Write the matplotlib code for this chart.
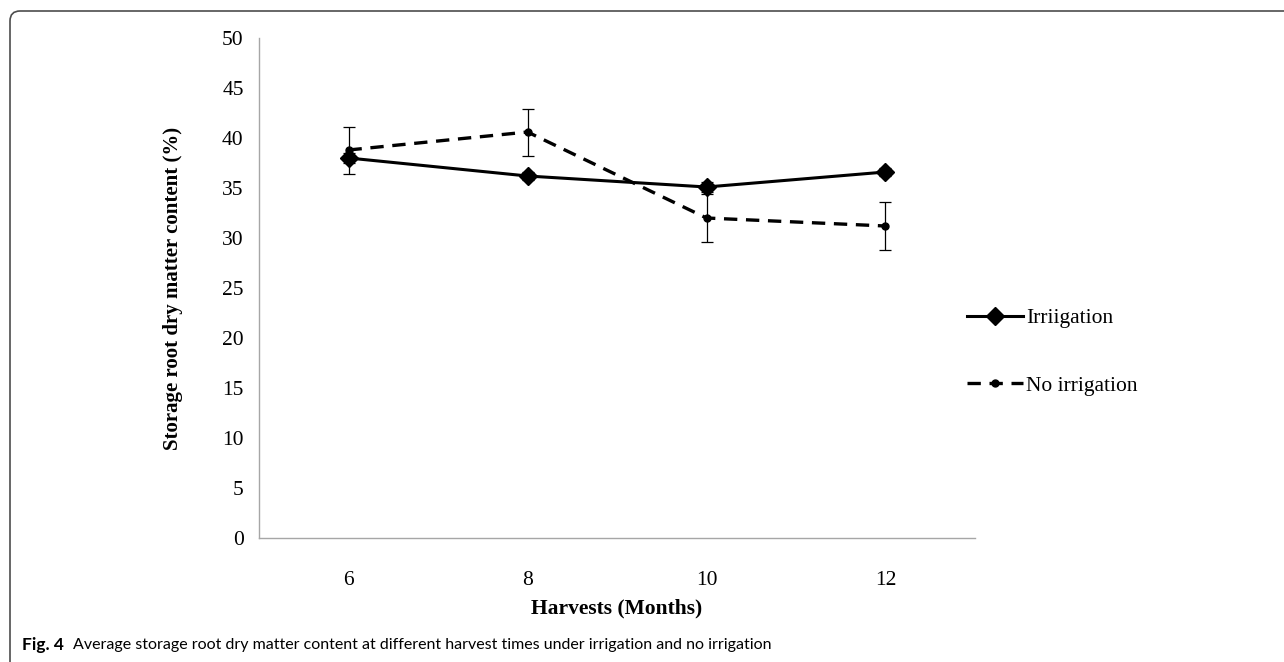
import matplotlib
matplotlib.use("Agg")
import matplotlib.pyplot as plt
from matplotlib.patches import FancyBboxPatch
from matplotlib.transforms import IdentityTransform

# Data
months = ["6", "8", "10", "12"]
irrigation = [38.0, 36.2, 35.1, 36.6]
irrigation_err = [0.5, 0.4, 0.5, 0.4]
no_irrigation = [38.8, 40.6, 32.0, 31.2]
no_irrigation_err = [2.35, 2.35, 2.4, 2.4]

serif = ["Liberation Serif", "DejaVu Serif"]
W, H = 1284, 662

fig = plt.figure(figsize=(W / 100, H / 100), dpi=100)
ax = fig.add_axes([259 / W, 1 - 538 / H, (975 - 259) / W, 500 / H])

x = list(range(len(months)))

# error bars first, without legend entries
ax.errorbar(x, irrigation, yerr=irrigation_err, fmt="none", ecolor="black",
            elinewidth=0.9, capsize=4, capthick=0.9, zorder=2)
ax.errorbar(x, no_irrigation, yerr=no_irrigation_err, fmt="none", ecolor="black",
            elinewidth=0.9, capsize=4, capthick=0.9, zorder=2)

ax.plot(x, irrigation, color="black", lw=2.2, marker="D", markersize=9,
        label="Irriigation", zorder=3)
ax.plot(x, no_irrigation, color="black", lw=2.4, dashes=(4, 2.6), marker="o",
        markersize=5, label="No irrigation", zorder=3)

ax.set_xlim(-0.5, len(months) - 0.5)
ax.set_ylim(0, 50)
ax.set_yticks(range(0, 51, 5))
ax.set_xticks(x)
ax.set_xticklabels(months)

for side in ["top", "right"]:
    ax.spines[side].set_visible(False)
for side in ["left", "bottom"]:
    ax.spines[side].set_color("#a6a6a6")
    ax.spines[side].set_linewidth(1.0)

ax.tick_params(axis="both", length=0, labelsize=15.5)
ax.tick_params(axis="x", pad=24)
ax.tick_params(axis="y", pad=11)
for lab in ax.get_xticklabels() + ax.get_yticklabels():
    lab.set_fontfamily(serif)

ax.set_ylabel("Storage root dry matter content (%)", fontsize=15,
              fontweight="bold", family=serif)
ax.yaxis.set_label_coords(-0.106, 0.5)
ax.set_xlabel("Harvests (Months)", fontsize=15.5, fontweight="bold", family=serif)
ax.xaxis.set_label_coords(0.5, -0.12)

leg = fig.legend(loc="upper left", bbox_to_anchor=(967 / W, 1 - 308 / H),
                 frameon=False, borderpad=0, borderaxespad=0, numpoints=1,
                 handlelength=2.6, handletextpad=0.15, labelspacing=2.2,
                 prop={"family": serif, "size": 15.5})

# rounded frame around the figure (only top-left corner visible)
frame = FancyBboxPatch((10, -40), W + 60, H - 11 + 40,
                       boxstyle="round,pad=0,rounding_size=10",
                       transform=IdentityTransform(), fill=False,
                       edgecolor="#4d4d4d", linewidth=1.2)
fig.patches.append(frame)

# caption
cy = 1 - 645 / H
t1 = fig.text(22 / W, cy, "Fig. 4", fontsize=12.5, fontweight="bold",
              family="Lato", va="center", ha="left")
fig.canvas.draw()
bb = t1.get_window_extent()
fig.text((bb.x1 + 9) / W, cy,
         "Average storage root dry matter content at different harvest times under irrigation and no irrigation",
         fontsize=11.5, family="Lato", va="center", ha="left")

fig.savefig("out.png", dpi=100)
